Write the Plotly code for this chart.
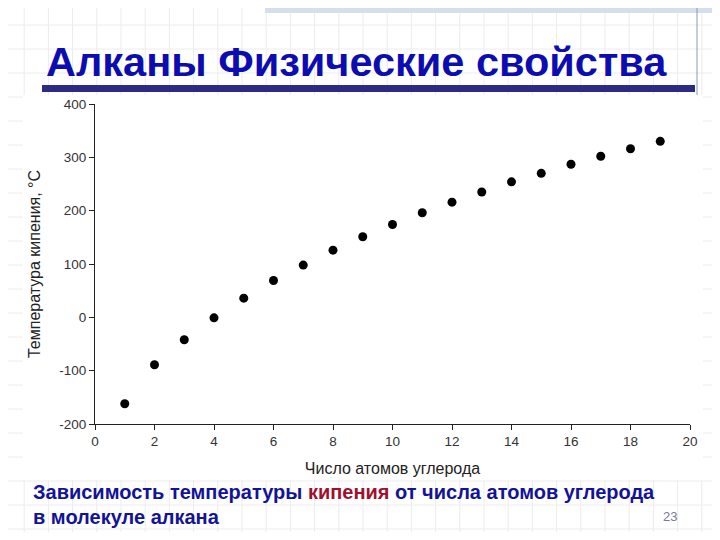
import plotly.graph_objects as go

# Data: boiling points of n-alkanes
carbon_atoms = [1, 2, 3, 4, 5, 6, 7, 8, 9, 10, 11, 12, 13, 14, 15, 16, 17, 18, 19]
boiling_points = [-162, -89, -42, -1, 36, 69, 98, 126, 151, 174, 196, 216, 235, 254, 270, 287, 302, 316, 330]
x_ticks = [0, 2, 4, 6, 8, 10, 12, 14, 16, 18, 20]
y_ticks = [-200, -100, 0, 100, 200, 300, 400]
y_tick_labels = ["-200", "-100", "0", "100", "200", "300", "400"]

OFF = 8  # browser body margin
W, H = 720 - OFF, 540 - OFF - 8
# plot area in page pixels
L, R, T, B = 95, 690, 104, 424


def px(x):
    return (x - L) / (R - L)


def py(y):
    return (B - y) / (B - T)


fig = go.Figure()
fig.add_trace(go.Scatter(
    x=carbon_atoms, y=boiling_points, mode="markers",
    marker=dict(color="black", size=9, symbol="circle"),
    showlegend=False, hoverinfo="x+y",
))

shapes = []
grid_col = "#ececec"
k = 24.2
x = k
while x < 720:
    shapes.append(dict(type="line", xref="paper", yref="paper", x0=px(x), x1=px(x), y0=py(OFF), y1=py(540),
                       line=dict(color=grid_col, width=1), layer="below"))
    x += k
y = 25
while y < 540:
    shapes.append(dict(type="line", xref="paper", yref="paper", x0=px(OFF), x1=px(720), y0=py(y), y1=py(y),
                       line=dict(color=grid_col, width=1), layer="below"))
    y += 24
# white chart image area
shapes.append(dict(type="rect", xref="paper", yref="paper", x0=px(23), x1=px(703), y0=py(95), y1=py(480),
                   fillcolor="white", line=dict(width=0), layer="below"))
# hatched band top right
shapes.append(dict(type="rect", xref="paper", yref="paper", x0=px(265), x1=px(720), y0=py(OFF), y1=py(13),
                   fillcolor="#d6deec", line=dict(width=0), layer="below"))
# vertical thin line top right
shapes.append(dict(type="line", xref="paper", yref="paper", x0=px(697), x1=px(697), y0=py(OFF), y1=py(95),
                   line=dict(color="#8a98b8", width=1), layer="below"))
# title underline bar
shapes.append(dict(type="rect", xref="paper", yref="paper", x0=px(42), x1=px(695), y0=py(85), y1=py(92),
                   fillcolor="#2b2b86", line=dict(width=0), layer="below"))

annotations = [
    dict(text="<b>Алканы Физические свойства</b>", xref="paper", yref="paper", x=px(44), y=py(62),
         xanchor="left", yanchor="middle", showarrow=False,
         font=dict(family="Liberation Sans", size=41.5, color="#0c0cb0")),
    dict(text="<b>Зависимость температуры <span style='color:#a0102e'>кипения</span> от числа атомов углерода</b>",
         xref="paper", yref="paper", x=px(31), y=py(492), xanchor="left", yanchor="middle", showarrow=False,
         font=dict(family="Liberation Sans", size=20, color="#12129a")),
    dict(text="<b>в молекуле алкана</b>", xref="paper", yref="paper", x=px(31), y=py(517),
         xanchor="left", yanchor="middle", showarrow=False,
         font=dict(family="Liberation Sans", size=20, color="#12129a")),
    dict(text="23", xref="paper", yref="paper", x=px(670), y=py(516), xanchor="center", yanchor="middle",
         showarrow=False, font=dict(family="Liberation Sans", size=13, color="#7a7a9a")),
]

fig.update_layout(
    width=W, height=H,
    margin=dict(l=L - OFF, r=720 - R, t=T - OFF, b=H - (B - OFF)),
    paper_bgcolor="white", plot_bgcolor="rgba(0,0,0,0)",
    shapes=shapes, annotations=annotations,
    font=dict(family="Liberation Sans", color="#222"),
)
fig.update_xaxes(
    range=[0, 20], tickvals=x_ticks, showgrid=False, zeroline=False,
    showline=True, linecolor="#222", linewidth=1, ticks="outside", ticklen=5, tickcolor="#222",
    tickfont=dict(size=13.5, color="#333"),
    title=dict(text="Число атомов углерода", font=dict(size=16, color="#222"), standoff=14),
)
fig.update_yaxes(
    range=[-200, 400], tickvals=y_ticks, ticktext=y_tick_labels, showgrid=False, zeroline=False,
    showline=True, linecolor="#222", linewidth=1, ticks="outside", ticklen=5, tickcolor="#222",
    tickfont=dict(size=13.5, color="#333"),
    title=dict(text="Температура кипения, °C", font=dict(size=16, color="#222"), standoff=14),
)

fig.write_html("out.html")
